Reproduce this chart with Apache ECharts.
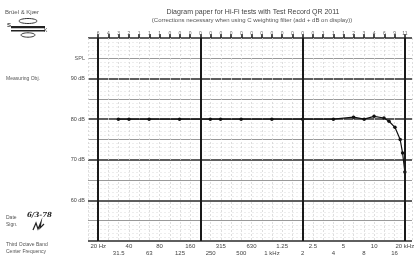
<!DOCTYPE html>
<html>
<head>
<meta charset="utf-8">
<script src="https://cdn.jsdelivr.net/npm/echarts@6/dist/echarts.min.js"></script>
<style>
  html, body { margin: 0; padding: 0; background: #fff; }
  #main { width: 420px; height: 260px; }
</style>
</head>
<body>
<div id="main"></div>
<script>
// third-octave band centre frequencies, 20 Hz .. 20 kHz
const bandLabels = ['20 Hz', '25', '31.5', '40', '50', '63', '80', '100', '125', '160',
  '200', '250', '315', '400', '500', '630', '800', '1 kHz', '1.25', '1.6',
  '2', '2.5', '3.15', '4', '5', '6.3', '8', '10', '12.5', '16', '20 kHz'];
// C-weighting corrections printed along the top
const cWeight = ['6', '4', '3', '2', '1', '1', '1', '0', '0', '0', '0', '0', '0', '0', '0', '0',
  '0', '0', '0', '0', '0', '0', '1', '1', '1', '2', '3', '4', '6', '9', '11'];
// measured points
const freqs = [31.5, 40, 63, 125, 250, 315, 500, 1000, 2000, 4000, 6300, 8000, 10000, 12500, 14000, 16000, 18000, 19000, 20000];
const spl = [80, 80, 80, 80, 80, 80, 80, 80, 80, 80, 80.5, 80, 80.7, 80.3, 79.5, 78, 75, 71.7, 67];
const majorFreqs = [20, 200, 2000, 20000];

const bandLo = -1, bandHi = 30.7;
const logMin = 20 * Math.pow(10, bandLo / 10);
const logMax = 20 * Math.pow(10, bandHi / 10);
const font = 'Liberation Sans';

const row = (k) => (v) => (Number.isInteger(v) && v >= 0 && v <= 30 && v % 3 === k) ? bandLabels[v] : '';

var chart = echarts.init(document.getElementById('main'));
chart.setOption({
  animation: false,
  textStyle: { fontFamily: font },
  grid: { left: 88, top: 38, width: 324, height: 203 },
  xAxis: [{
    type: 'value', min: bandLo, max: bandHi, interval: 1, position: 'bottom',
    axisLine: { show: false }, axisTick: { show: false },
    splitLine: { show: true, lineStyle: { color: '#d6d6d6', width: 0.8, type: [2, 2] } },
    axisLabel: { formatter: row(0), fontSize: 6, color: '#444', margin: 2 }
  }, {
    type: 'log', min: logMin, max: logMax, show: false
  }, {
    type: 'value', min: bandLo, max: bandHi, interval: 1, position: 'bottom', offset: 7,
    axisLine: { show: false }, axisTick: { show: false }, splitLine: { show: false },
    axisLabel: { formatter: row(2), fontSize: 6, color: '#444', margin: 2 }
  }, {
    type: 'value', min: bandLo, max: bandHi, interval: 1, position: 'top',
    axisLine: { show: false }, splitLine: { show: false },
    axisTick: { show: true, length: 4, customValues: cWeight.map((_, i) => i), lineStyle: { color: '#222', width: 1.6 } },
    axisLabel: {
      fontSize: 5, color: '#666', margin: 2,
      formatter: (v) => (Number.isInteger(v) && v >= 0 && v <= 30) ? cWeight[v] : ''
    }
  }],
  yAxis: [{
    type: 'value', min: 50, max: 100, interval: 10, position: 'left',
    axisLine: { show: true, lineStyle: { color: '#888', width: 1 } },
    axisTick: { show: false },
    splitLine: { lineStyle: { color: '#2a2a2a', width: 1.6 } },
    axisLabel: {
      fontSize: 5.5, color: '#444', margin: 3,
      formatter: (v) => (v >= 60 && v <= 90) ? v + ' dB' : ''
    }
  }, {
    type: 'value', min: 50, max: 100, interval: 5, position: 'left',
    axisLine: { show: false }, axisTick: { show: false }, axisLabel: { show: false },
    splitLine: { lineStyle: { color: ['rgba(0,0,0,0)', '#9a9a9a'], width: 1 } },
    minorTick: { show: false, splitNumber: 5 },
    minorSplitLine: { show: true, lineStyle: { color: '#e6e6e6', width: 0.7, type: [2, 2] } }
  }],
  series: [{
    type: 'line',
    xAxisIndex: 1,
    yAxisIndex: 0,
    data: freqs.map((f, i) => [f, spl[i]]),
    symbol: 'circle',
    symbolSize: 3.5,
    itemStyle: { color: '#111' },
    lineStyle: { color: '#111', width: 1.2 },
    markLine: {
      silent: true,
      symbol: ['none', 'none'],
      label: { show: false },
      lineStyle: { color: '#1a1a1a', width: 2, type: 'solid' },
      data: majorFreqs.map(f => ({ xAxis: f }))
    }
  }],
  graphic: [
    { type: 'text', left: 5, top: 9, style: { text: 'Brüel & Kjær', fontSize: 6, fill: '#555', fontFamily: font } },
    // logo
    { type: 'ellipse', shape: { cx: 28, cy: 21, rx: 9, ry: 2.5 }, style: { fill: 'none', stroke: '#333', lineWidth: 1 } },
    { type: 'rect', shape: { x: 11, y: 26, width: 34, height: 2.2 }, style: { fill: '#222' } },
    { type: 'rect', shape: { x: 11, y: 30, width: 34, height: 1.5 }, style: { fill: '#222' } },
    { type: 'ellipse', shape: { cx: 28, cy: 35, rx: 7, ry: 2.2 }, style: { fill: 'none', stroke: '#333', lineWidth: 1 } },
    { type: 'text', left: 7, top: 22, style: { text: 'S', fontSize: 6, fill: '#333', fontFamily: font, fontWeight: 'bold' } },
    { type: 'text', left: 44, top: 28, style: { text: 'K', fontSize: 5, fill: '#333', fontFamily: font } },
    // titles
    { type: 'text', x: 253, y: 12, style: { text: 'Diagram paper for Hi-Fi tests with Test Record QR 2011', fontSize: 7, fill: '#444', fontFamily: font, align: 'center', verticalAlign: 'middle' } },
    { type: 'text', x: 252, y: 20, style: { text: '(Corrections necessary when using C weighting filter (add + dB on display))', fontSize: 6, fill: '#555', fontFamily: font, align: 'center', verticalAlign: 'middle' } },
    // left side texts
    { type: 'text', x: 6, y: 79, style: { text: 'Measuring Obj.', fontSize: 5, fill: '#555', fontFamily: font, verticalAlign: 'middle' } },
    { type: 'text', x: 85, y: 58, style: { text: 'SPL', fontSize: 5.5, fill: '#555', fontFamily: font, align: 'right', verticalAlign: 'middle' } },
    { type: 'text', x: 6, y: 218, style: { text: 'Date', fontSize: 5, fill: '#555', fontFamily: font, verticalAlign: 'middle' } },
    { type: 'text', x: 6, y: 225, style: { text: 'Sign.', fontSize: 5, fill: '#555', fontFamily: font, verticalAlign: 'middle' } },
    { type: 'text', x: 27, y: 215, style: { text: '6/3-78', fontSize: 7, fill: '#222', fontFamily: 'DejaVu Serif', fontStyle: 'italic', fontWeight: 'bold', verticalAlign: 'middle' } },
    { type: 'polyline', shape: { points: [[33, 230], [36, 223], [38, 229], [41, 222], [40, 228], [44, 224]] }, style: { stroke: '#222', lineWidth: 1.2, fill: 'none' } },
    { type: 'text', x: 6, y: 245, style: { text: 'Third Octave Band', fontSize: 5, fill: '#555', fontFamily: font, verticalAlign: 'middle' } },
    { type: 'text', x: 6, y: 252, style: { text: 'Center Frequency', fontSize: 5, fill: '#555', fontFamily: font, verticalAlign: 'middle' } }
  ]
});
</script>
</body>
</html>
